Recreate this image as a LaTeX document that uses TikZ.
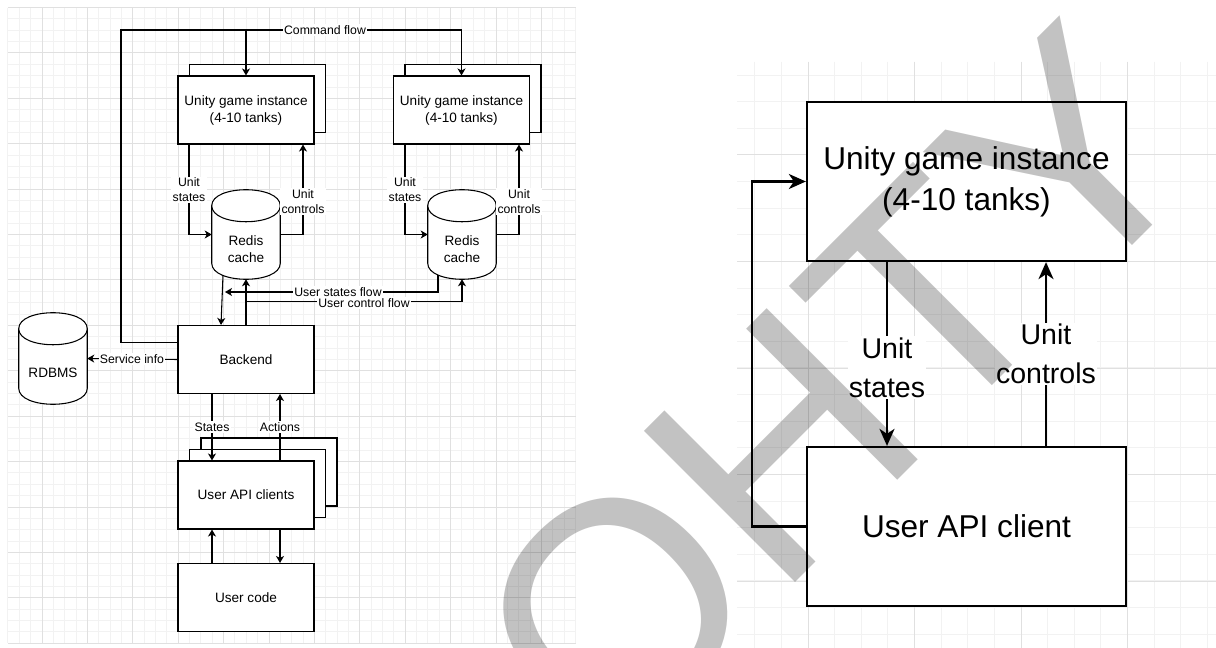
\documentclass[tikz,border=0pt]{standalone}
\usepackage{fontspec}
\setmainfont{Liberation Sans}
\usetikzlibrary{arrows.meta,calc}
\newcommand\drawcyl[1]{%
  \path (#1.north west) ++(0,16) coordinate (#1-tl)
        (#1.north east) ++(0,16) coordinate (#1-tr)
        (#1.south west) ++(0,-16) coordinate (#1-bl)
        (#1.south east) ++(0,-16) coordinate (#1-br);
  \draw[cyl] (#1-tl) -- (#1-bl) .. controls ([yshift=-16pt]#1-bl) and ([yshift=-16pt]#1-br) .. (#1-br)
     -- (#1-tr) .. controls ([yshift=16pt]#1-tr) and ([yshift=16pt]#1-tl) .. (#1-tl) -- cycle;
  \draw[cyl] (#1-tl) .. controls ([yshift=-16pt]#1-tl) and ([yshift=-16pt]#1-tr) .. (#1-tr);
}
\tikzset{
  gmin/.style={draw=black!5, line width=0.75pt},
  gmaj/.style={draw=black!12, line width=0.75pt},
  box/.style={draw=black, line width=0.8pt, fill=white, minimum width=102pt, minimum height=51pt,
    inner sep=0pt, align=center, font=\fontsize{10.2}{12.75}\selectfont},
  cylbox/.style={minimum width=51pt, inner sep=0pt},
  cyl/.style={draw=black, line width=0.8pt, fill=white},
  ctxt/.style={inner sep=0pt, align=center, font=\fontsize{10.2}{12.75}\selectfont},
  con/.style={draw=black, line width=0.8pt, -{Stealth[length=5.25pt,width=6pt,inset=1.5pt]}},
  lbl/.style={fill=white, inner sep=1pt, align=center, font=\fontsize{9.2}{11.25}\selectfont},
  rbox/.style={draw=black, line width=1.7pt, fill=white, minimum width=239.25pt, minimum height=119.25pt,
    inner sep=0pt, align=center, font=\fontsize{23.7}{30.75}\selectfont},
  rcon/.style={draw=black, line width=1.7pt, -{Stealth[length=12.75pt,width=11.25pt,inset=3.75pt]}},
  rlbl/.style={fill=white, inner sep=1pt, align=center, font=\fontsize{21.4}{29}\selectfont},
  wmark/.style={anchor=base west, rotate=45, inner sep=0pt, text=black, text opacity=0.24,
    font=\fontsize{233}{233}\selectfont}
}
\begin{document}
\begin{tikzpicture}[x=0.75pt,y=-0.75pt]
\useasboundingbox (0,0) rectangle (1216,648);
\clip (0,0) rectangle (1216,648);
\fill[white] (0,0) rectangle (1216,648);
% ---- left grid
\foreach \i in {0,...,50}{\pgfmathsetmacro\gx{7.95+11.35*\i}\draw[gmin] (\gx,8) -- (\gx,643);}
\foreach \j in {0,...,56}{\pgfmathsetmacro\gy{7.6+11.35*\j}\draw[gmin] (8,\gy) -- (576,\gy);}
\foreach \i in {0,...,11}{\pgfmathsetmacro\gx{42+45.4*\i}\draw[gmaj] (\gx,8) -- (\gx,643);}
\foreach \j in {0,...,14}{\pgfmathsetmacro\gy{7.6+45.4*\j}\draw[gmaj] (8,\gy) -- (576,\gy);}
% ---- right grid
\foreach \i in {0,...,17}{\pgfmathsetmacro\gx{754.75+26.625*\i}\draw[gmin] (\gx,62) -- (\gx,648);}
\foreach \j in {0,...,21}{\pgfmathsetmacro\gy{75.1+26.625*\j}\draw[gmin] (737,\gy) -- (1216,\gy);}
\foreach \i in {0,...,3}{\pgfmathsetmacro\gx{808+106.5*\i}\draw[gmaj] (\gx,62) -- (\gx,648);}
\foreach \j in {0,...,4}{\pgfmathsetmacro\gy{155+106.5*\j}\draw[gmaj] (737,\gy) -- (1216,\gy);}

% ---- left diagram boxes
\node[box] (ub1) at (257.5,98.5) {};
\node[box] (u1) at (246,110) {Unity game instance\\(4-10 tanks)};
\node[box] (ub2) at (473,98.5) {};
\node[box] (u2) at (461.5,110) {Unity game instance\\(4-10 tanks)};
\node[cylbox, minimum height=66.75pt] (r1) at (246,234.5) {};
\drawcyl{r1}
\node[ctxt] (r1t) at (246,249) {Redis\\cache};
\node[cylbox, minimum height=66.75pt] (r2) at (462,234.5) {};
\drawcyl{r2}
\node[ctxt] (r2t) at (462,249) {Redis\\cache};
\node[box] (be) at (246,359.5) {Backend};
\node[cylbox, minimum height=68.25pt] (db) at (53,358.5) {};
\drawcyl{db}
\node[ctxt] (dbt) at (53,373) {RDBMS};
\node[box] (ua2) at (269,472) {};
\node[box] (ua1) at (257.5,483.5) {};
\node[box] (ua) at (246,495) {User API clients};
\node[box] (uc) at (246,597.5) {User code};

% ---- left connectors
\coordinate (cf) at (121,30);
\coordinate (usf) at (225,292);
\draw[con] ([yshift=12.75pt]be.west) -| (cf) -| (u2.north);
\draw[con] (u1.north |- cf) -- (u1.north);
\draw[con] ([xshift=-42.75pt]u1.south) |- (r1.west);
\draw[con] (r1.east) -| ([xshift=42.75pt]u1.south);
\draw[con] ([xshift=-42.375pt]u2.south) |- (r2.west);
\draw[con] (r2.east) -| ([xshift=43.125pt]u2.south);
\draw[con] ([xshift=-17.25pt,yshift=3pt]r1.south) -- ([xshift=-18.75pt]be.north);
\draw[con] (be.north) -- (r1.south);
\draw[con] (be.north) -- ([yshift=17.25pt]be.north) -| (r2.south);
\draw[con] ([xshift=-18pt,yshift=3.375pt]r2.south) |- (usf);
\draw[con] (be.west) -- (db.east);
\draw[con] ([xshift=-25.5pt]be.south) -- ([xshift=-25.5pt]ua.north);
\draw[con] ([xshift=25.5pt]ua.north) -- ([xshift=25.5pt]be.south);
\draw[con] ([xshift=-25.5pt]uc.north) -- ([xshift=-25.5pt]ua.south);
\draw[con] ([xshift=25.5pt]ua.south) -- ([xshift=25.5pt]uc.north);

% ---- left labels
\node[lbl] (lcf) at (325,30) {Command flow};
\node[lbl] (ls1) at (189,190) {Unit\\states};
\node[lbl] (lc1) at (303,201.5) {Unit\\controls};
\node[lbl] (ls2) at (405,190) {Unit\\states};
\node[lbl] (lc2) at (519,201.5) {Unit\\controls};
\node[lbl] (lus) at (338,292) {User states flow};
\node[lbl] (luc) at (364,303) {User control flow};
\node[lbl] (lsi) at (132,359) {Service info};
\node[lbl] (lst) at (212,427) {States};
\node[lbl] (lac) at (280,427) {Actions};

% ---- right diagram
\node[rbox] (ru) at (966.5,181.5) {Unity game instance\\(4-10 tanks)};
\node[rbox] (rc) at (966.5,526.5) {User API client};
\draw[rcon] ([xshift=-59.625pt]ru.south) -- ([xshift=-59.625pt]rc.north);
\draw[rcon] ([xshift=59.625pt]rc.north) -- ([xshift=59.625pt]ru.south);
\draw[rcon] (rc.west) -- ++(-54,0) |- (ru.west);
\node[rlbl] (rls) at (887,367.5) {Unit\\states};
\node[rlbl] (rlc) at (1046,354) {Unit\\controls};

% ---- watermark
\node[wmark] (wm) at (606,772) {OHTY};
\end{tikzpicture}
\end{document}
